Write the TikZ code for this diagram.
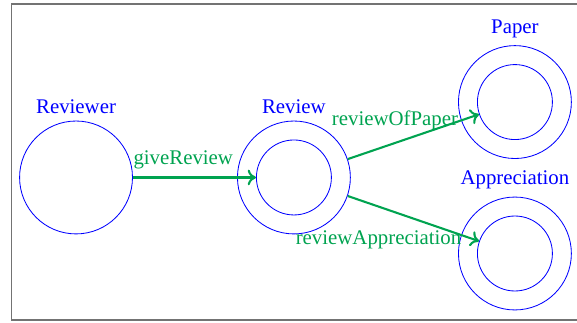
\documentclass[tikz,border=0pt]{standalone}
\usepackage{fontspec}
\setmainfont{Liberation Serif}
\usetikzlibrary{positioning,arrows.meta}
\definecolor{arcgreen}{RGB}{0,163,80}
\begin{document}
\begin{tikzpicture}[
  on grid,
  ring/.style={draw=blue, circle, inner sep=0pt, minimum size=54.2pt, thin},
  inring/.style={draw=blue, circle, inner sep=0pt, minimum size=36pt, thin},
  every label/.style={text=blue, font=\normalsize},
  arc/.style={draw=arcgreen, line width=1pt},
  arclabel/.style={text=arcgreen, inner sep=1pt},
  >={To[length=4pt,width=7.5pt]}
]
\useasboundingbox (0,0) rectangle (277pt,-154.6pt);
\draw[gray!90!black, line width=0.9pt] (5.5pt,-1.9pt) rectangle (283pt,-153.8pt);
\node[ring, label=above:Reviewer] (reviewer) at (36.5pt,-85.2pt) {};
\node[ring, label=above:Review, right=104.6pt of reviewer] (review) {};
\node[inring] (reviewin) at (review) {};
\node[ring, label=above:Paper, above right=36.2pt and 106.1pt of review] (paper) {};
\node[inring] (paperin) at (paper) {};
\node[ring, label=above:Appreciation, below=72.7pt of paper] (appr) {};
\node[inring] (apprin) at (appr) {};
\draw[arc, ->] (reviewer) -- (reviewin)
  node[arclabel, pos=0, anchor=south west, inner ysep=3.6pt, xshift=-1.2pt] {giveReview};
\draw[arc, ->] (review) -- (paperin)
  node[arclabel, pos=0.864, anchor=east] {reviewOfPaper};
\draw[arc, ->] (review) -- (apprin)
  node[arclabel, pos=0.864, anchor=east, xshift=1.5pt, yshift=-2.4pt] {reviewAppreciation};
\end{tikzpicture}
\end{document}
